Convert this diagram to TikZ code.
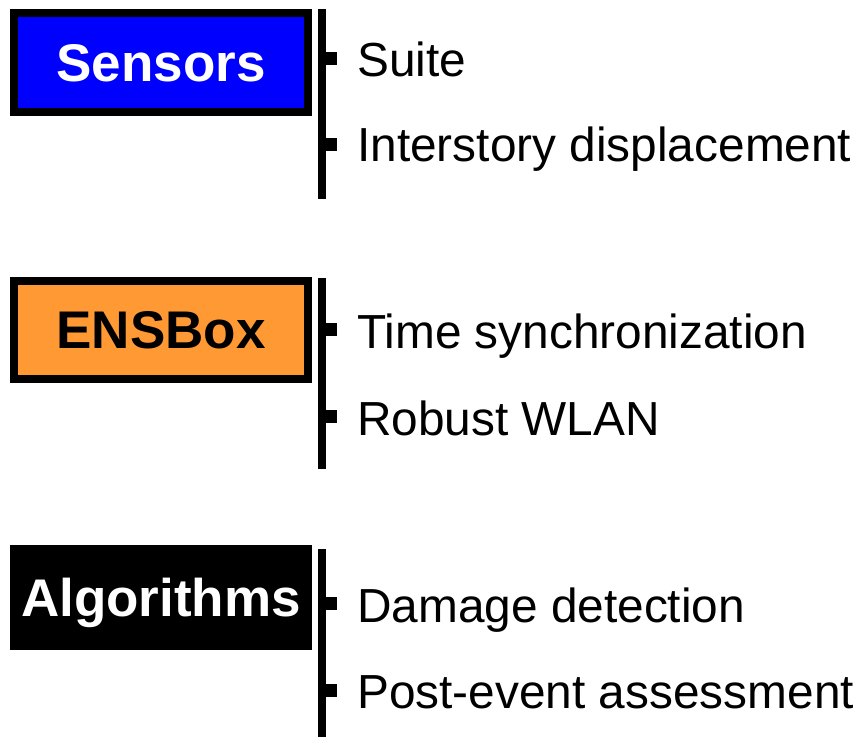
\documentclass[tikz,border=0pt]{standalone}
\usepackage{fontspec}
\setmainfont{Liberation Sans}
\definecolor{sensblue}{RGB}{0,0,255}
\definecolor{ensorange}{RGB}{255,153,51}
\begin{document}
\begin{tikzpicture}[x=1pt,y=-1pt,
  headbox/.style={draw=black, line width=8pt, minimum width=294pt, inner sep=0pt,
    text height=37.9pt, text depth=0pt,
    font=\fontsize{53}{60}\selectfont\bfseries},
  item/.style={anchor=base west, inner sep=0pt, font=\fontsize{47.8}{54}\selectfont},
  barline/.style={line width=8pt, line cap=butt},
  tabline/.style={line width=13pt, line cap=butt}]
\useasboundingbox (0,0) rectangle (863,737);

% head boxes
\node[headbox, fill=sensblue, text=white, minimum height=99pt] (sens) at (161,62.5) {Sensors};
\node[headbox, fill=ensorange, text=black, minimum height=98pt] (ens) at (161,330) {ENSBox};
\node[headbox, fill=black, text=white, minimum height=97pt] (alg) at (161,597.5) {Algorithms};

% bars
\coordinate (s1) at (322,9);   \coordinate (s2) at (322,199);
\coordinate (e1) at (322,278); \coordinate (e2) at (322,469);
\coordinate (a1) at (322,549); \coordinate (a2) at (322,737);
\draw[barline] (s1) -- (s2);
\draw[barline] (e1) -- (e2);
\draw[barline] (a1) -- (a2);

% items
\node[item] (i1) at (357,76.5) {Suite};
\node[item] (i2) at (357,161.5) {Interstory displacement};
\node[item] (i3) at (357,348.5) {Time synchronization};
\node[item] (i4) at (357,435.5) {Robust WLAN};
\node[item] (i5) at (357,622) {Damage detection};
\node[item] (i6) at (357,708.5) {Post-event assessment};

% tabs
\coordinate (t1) at (322,58.5);  \coordinate (u1) at (337,58.5);
\coordinate (t2) at (322,144.5); \coordinate (u2) at (337,144.5);
\coordinate (t3) at (322,329.7); \coordinate (u3) at (337,329.7);
\coordinate (t4) at (322,416.5); \coordinate (u4) at (337,416.5);
\coordinate (t5) at (322,603.5); \coordinate (u5) at (337,603.5);
\coordinate (t6) at (322,690);   \coordinate (u6) at (337,690);
\foreach \k in {1,...,6} { \draw[tabline] (t\k) -- (u\k); }
\end{tikzpicture}
\end{document}
